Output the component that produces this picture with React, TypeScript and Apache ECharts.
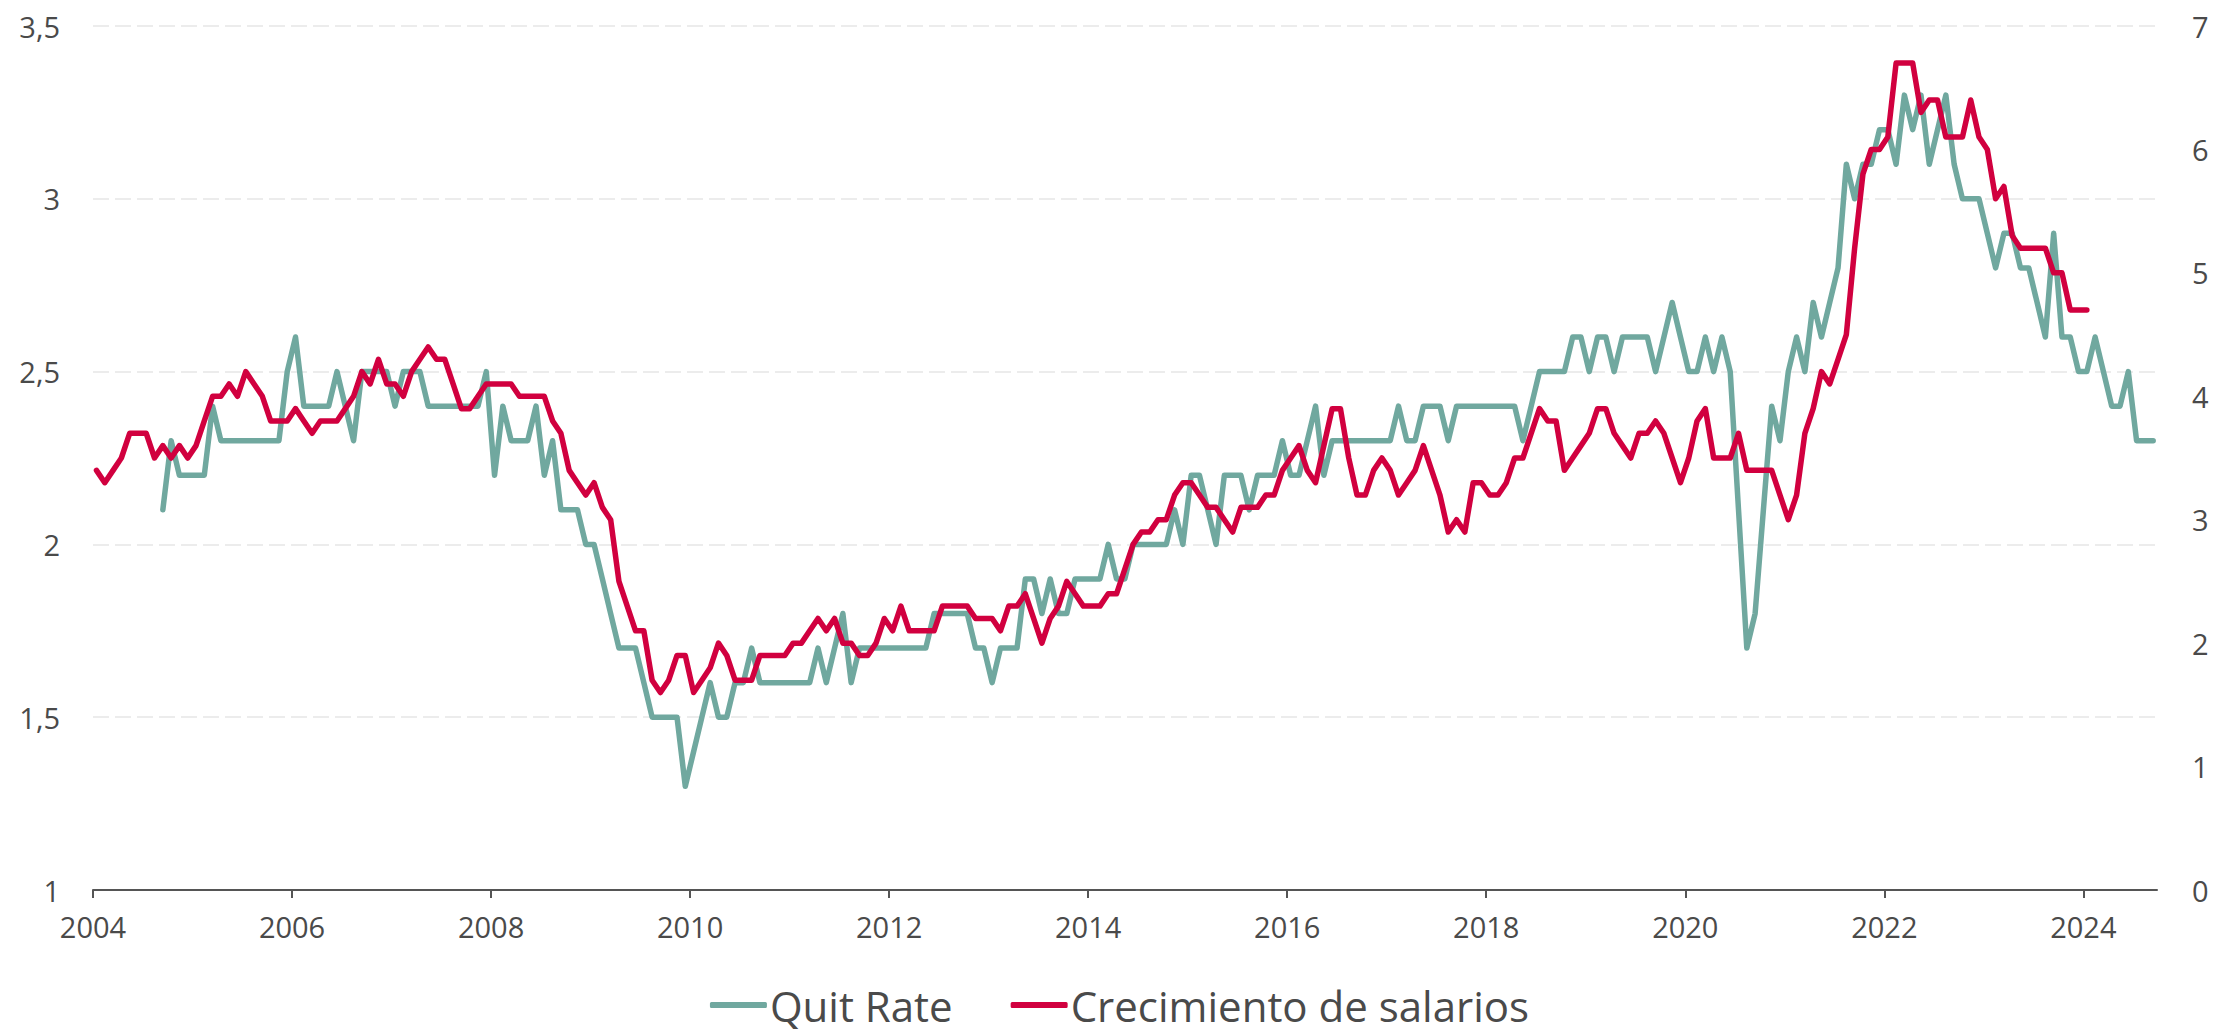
import React, { useEffect, useRef } from "react";
import * as echarts from "echarts";

// Monthly data, first value = first month shown
const quitStart = { year: 2004, month: 9 };
const quitRate = [
  2.1, 2.3, 2.2, 2.2,
  2.2, 2.2, 2.4, 2.3, 2.3, 2.3, 2.3, 2.3, 2.3, 2.3, 2.3, 2.5,
  2.6, 2.4, 2.4, 2.4, 2.4, 2.5, 2.4, 2.3, 2.5, 2.5, 2.5, 2.5,
  2.4, 2.5, 2.5, 2.5, 2.4, 2.4, 2.4, 2.4, 2.4, 2.4, 2.4, 2.5,
  2.2, 2.4, 2.3, 2.3, 2.3, 2.4, 2.2, 2.3, 2.1, 2.1, 2.1, 2.0,
  2.0, 1.9, 1.8, 1.7, 1.7, 1.7, 1.6, 1.5, 1.5, 1.5, 1.5, 1.3,
  1.4, 1.5, 1.6, 1.5, 1.5, 1.6, 1.6, 1.7, 1.6, 1.6, 1.6, 1.6,
  1.6, 1.6, 1.6, 1.7, 1.6, 1.7, 1.8, 1.6, 1.7, 1.7, 1.7, 1.7,
  1.7, 1.7, 1.7, 1.7, 1.7, 1.8, 1.8, 1.8, 1.8, 1.8, 1.7, 1.7,
  1.6, 1.7, 1.7, 1.7, 1.9, 1.9, 1.8, 1.9, 1.8, 1.8, 1.9, 1.9,
  1.9, 1.9, 2.0, 1.9, 1.9, 2.0, 2.0, 2.0, 2.0, 2.0, 2.1, 2.0,
  2.2, 2.2, 2.1, 2.0, 2.2, 2.2, 2.2, 2.1, 2.2, 2.2, 2.2, 2.3,
  2.2, 2.2, 2.3, 2.4, 2.2, 2.3, 2.3, 2.3, 2.3, 2.3, 2.3, 2.3,
  2.3, 2.4, 2.3, 2.3, 2.4, 2.4, 2.4, 2.3, 2.4, 2.4, 2.4, 2.4,
  2.4, 2.4, 2.4, 2.4, 2.3, 2.4, 2.5, 2.5, 2.5, 2.5, 2.6, 2.6,
  2.5, 2.6, 2.6, 2.5, 2.6, 2.6, 2.6, 2.6, 2.5, 2.6, 2.7, 2.6,
  2.5, 2.5, 2.6, 2.5, 2.6, 2.5, 2.1, 1.7, 1.8, 2.1, 2.4, 2.3,
  2.5, 2.6, 2.5, 2.7, 2.6, 2.7, 2.8, 3.1, 3.0, 3.1, 3.1, 3.2,
  3.2, 3.1, 3.3, 3.2, 3.3, 3.1, 3.2, 3.3, 3.1, 3.0, 3.0, 3.0,
  2.9, 2.8, 2.9, 2.9, 2.8, 2.8, 2.7, 2.6, 2.9, 2.6, 2.6, 2.5,
  2.5, 2.6, 2.5, 2.4, 2.4, 2.5, 2.3, 2.3, 2.3,
];

const wageStart = { year: 2004, month: 1 };
const wageGrowth = [
  3.4, 3.3, 3.4, 3.5, 3.7, 3.7, 3.7, 3.5, 3.6, 3.5, 3.6, 3.5,
  3.6, 3.8, 4.0, 4.0, 4.1, 4.0, 4.2, 4.1, 4.0, 3.8, 3.8, 3.8,
  3.9, 3.8, 3.7, 3.8, 3.8, 3.8, 3.9, 4.0, 4.2, 4.1, 4.3, 4.1,
  4.1, 4.0, 4.2, 4.3, 4.4, 4.3, 4.3, 4.1, 3.9, 3.9, 4.0, 4.1,
  4.1, 4.1, 4.1, 4.0, 4.0, 4.0, 4.0, 3.8, 3.7, 3.4, 3.3, 3.2,
  3.3, 3.1, 3.0, 2.5, 2.3, 2.1, 2.1, 1.7, 1.6, 1.7, 1.9, 1.9,
  1.6, 1.7, 1.8, 2.0, 1.9, 1.7, 1.7, 1.7, 1.9, 1.9, 1.9, 1.9,
  2.0, 2.0, 2.1, 2.2, 2.1, 2.2, 2.0, 2.0, 1.9, 1.9, 2.0, 2.2,
  2.1, 2.3, 2.1, 2.1, 2.1, 2.1, 2.3, 2.3, 2.3, 2.3, 2.2, 2.2,
  2.2, 2.1, 2.3, 2.3, 2.4, 2.2, 2.0, 2.2, 2.3, 2.5, 2.4, 2.3,
  2.3, 2.3, 2.4, 2.4, 2.6, 2.8, 2.9, 2.9, 3.0, 3.0, 3.2, 3.3,
  3.3, 3.2, 3.1, 3.1, 3.0, 2.9, 3.1, 3.1, 3.1, 3.2, 3.2, 3.4,
  3.5, 3.6, 3.4, 3.3, 3.6, 3.9, 3.9, 3.5, 3.2, 3.2, 3.4, 3.5,
  3.4, 3.2, 3.3, 3.4, 3.6, 3.4, 3.2, 2.9, 3.0, 2.9, 3.3, 3.3,
  3.2, 3.2, 3.3, 3.5, 3.5, 3.7, 3.9, 3.8, 3.8, 3.4, 3.5, 3.6,
  3.7, 3.9, 3.9, 3.7, 3.6, 3.5, 3.7, 3.7, 3.8, 3.7, 3.5, 3.3,
  3.5, 3.8, 3.9, 3.5, 3.5, 3.5, 3.7, 3.4, 3.4, 3.4, 3.4, 3.2,
  3.0, 3.2, 3.7, 3.9, 4.2, 4.1, 4.3, 4.5, 5.2, 5.8, 6.0, 6.0,
  6.1, 6.7, 6.7, 6.7, 6.3, 6.4, 6.4, 6.1, 6.1, 6.1, 6.4, 6.1,
  6.0, 5.6, 5.7, 5.3, 5.2, 5.2, 5.2, 5.2, 5.0, 5.0, 4.7, 4.7,
  4.7,
];

const xTickYears = [2004, 2006, 2008, 2010, 2012, 2014, 2016, 2018, 2020, 2022, 2024];
const leftTicks = [1, 1.5, 2, 2.5, 3, 3.5];
const rightTicks = [0, 1, 2, 3, 4, 5, 6, 7];
const seriesNames = ["Quit Rate", "Crecimiento de salarios"];

const TEAL = "#70a89f";
const RED = "#d1003f";
const TXT = "#4a4a4a";
const FONT = "'Open Sans', 'Noto Sans', sans-serif";

function toPairs(start: { year: number; month: number }, vals: number[]) {
  return vals.map((v, i) => {
    const m = start.month - 1 + i;
    return [start.year + m / 12 + 0.035, v];
  });
}

export default function App() {
  const ref = useRef<HTMLDivElement>(null);
  useEffect(() => {
    document.body.style.margin = "0";
    const chart = echarts.init(ref.current!, null, { renderer: "svg" });
    const option: any = {
      animation: false,
      backgroundColor: "#ffffff",
      textStyle: { fontFamily: FONT },
      grid: { left: 93, right: 82, top: 26, bottom: 142, containLabel: false },
      legend: {
        bottom: 6,
        left: "center",
        padding: 0,
        icon: "roundRect",
        itemWidth: 57,
        itemHeight: 6,
        itemGap: 58,
        textStyle: {
          fontSize: 42,
          color: TXT,
          fontFamily: FONT,
          padding: [0, 0, 0, -2],
        },
        data: seriesNames,
      },
      xAxis: {
        type: "value",
        min: 2004,
        max: 2024.74,
        interval: 2,
        splitLine: { show: false },
        axisLine: { show: true, lineStyle: { color: "#555555", width: 2 } },
        axisTick: {
          show: true,
          length: 8,
          lineStyle: { color: "#555555", width: 2 },
          customValues: xTickYears,
        },
        axisLabel: {
          color: TXT,
          fontSize: 29,
          fontFamily: FONT,
          margin: 22,
          customValues: xTickYears,
          formatter: (v: number) => String(Math.round(v)),
        },
      },
      yAxis: [
        {
          type: "value",
          min: 1,
          max: 3.5,
          interval: 0.5,
          position: "left",
          axisLine: { show: false },
          axisTick: { show: false },
          splitLine: { show: true, lineStyle: { color: "#ececec", width: 2, type: [16, 6] } },
          axisLabel: {
            color: TXT,
            fontSize: 29,
            fontFamily: FONT,
            margin: 33,
            customValues: leftTicks,
            formatter: (v: number) => String(v).replace(".", ","),
          },
        },
        {
          type: "value",
          min: 0,
          max: 7,
          interval: 1,
          position: "right",
          axisLine: { show: false },
          axisTick: { show: false },
          splitLine: { show: false },
          axisLabel: {
            color: TXT,
            fontSize: 29,
            fontFamily: FONT,
            margin: 35,
            customValues: rightTicks,
            formatter: (v: number) => String(v),
          },
        },
      ],
      series: [
        {
          name: seriesNames[0],
          type: "line",
          yAxisIndex: 0,
          data: toPairs(quitStart, quitRate),
          showSymbol: false,
          symbol: "none",
          lineStyle: { color: TEAL, width: 5.5, join: "round", cap: "round" },
          itemStyle: { color: TEAL },
          z: 2,
        },
        {
          name: seriesNames[1],
          type: "line",
          yAxisIndex: 1,
          data: toPairs(wageStart, wageGrowth),
          showSymbol: false,
          symbol: "none",
          lineStyle: { color: RED, width: 5.5, join: "round", cap: "round" },
          itemStyle: { color: RED },
          z: 3,
        },
      ],
    };
    chart.setOption(option);
    return () => chart.dispose();
  }, []);
  return (
    <div
      ref={ref}
      style={{ position: "fixed", left: 0, top: 0, width: 2239, height: 1032, background: "#fff" }}
    />
  );
}
